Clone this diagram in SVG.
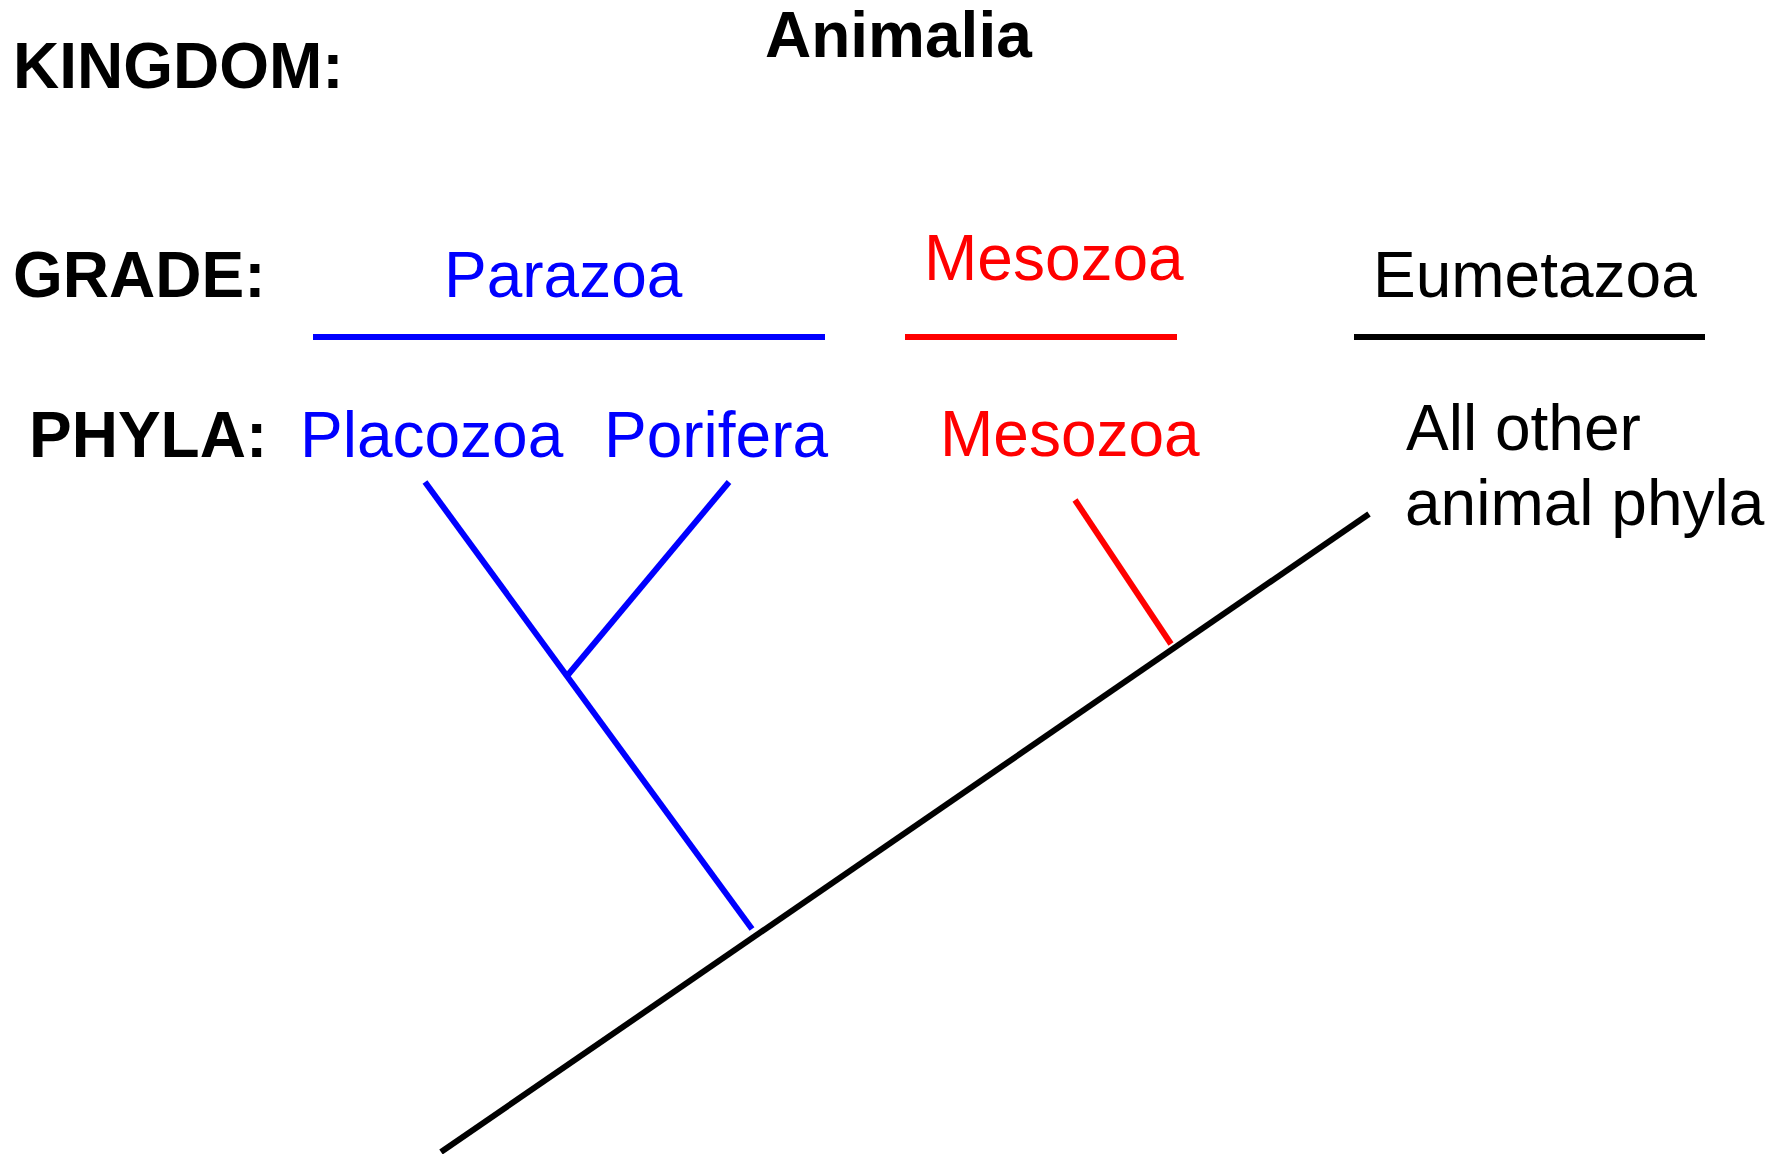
<svg xmlns="http://www.w3.org/2000/svg" width="1783" height="1154" viewBox="0 0 1783 1154">
  <style>
    text { font-family: "Liberation Sans", Arial, sans-serif; font-size: 64px; }
    .head { font-weight: bold; fill: #000; }
    .blue { fill: #0000FF; }
    .red { fill: #FF0000; }
    .black { fill: #000; }
    .bar { stroke-width: 6; fill: none; stroke-linecap: butt; }
    .branch { stroke-width: 6; fill: none; stroke-linecap: butt; }
  </style>
  <rect width="1783" height="1154" fill="#fff"/>

  <!-- row headings -->
  <g id="headings">
    <text class="head" x="13" y="88">KINGDOM:</text>
    <text class="head" x="765" y="57">Animalia</text>
    <text class="head" x="13" y="297">GRADE:</text>
    <text class="head" x="29" y="457">PHYLA:</text>
  </g>

  <!-- grades with their bars -->
  <g id="grade-parazoa">
    <text class="blue" x="444" y="297">Parazoa</text>
    <line class="bar" x1="313" y1="337" x2="825" y2="337" stroke="#0000FF"/>
  </g>
  <g id="grade-mesozoa">
    <text class="red" x="924" y="280">Mesozoa</text>
    <line class="bar" x1="905" y1="337" x2="1177" y2="337" stroke="#FF0000"/>
  </g>
  <g id="grade-eumetazoa">
    <text class="black" x="1373" y="297">Eumetazoa</text>
    <line class="bar" x1="1354" y1="337" x2="1705" y2="337" stroke="#000"/>
  </g>

  <!-- phyla -->
  <g id="phylum-placozoa"><text class="blue" x="300" y="457">Placozoa</text></g>
  <g id="phylum-porifera"><text class="blue" x="604" y="457">Porifera</text></g>
  <g id="phylum-mesozoa"><text class="red" x="940" y="456">Mesozoa</text></g>
  <g id="phylum-others">
    <text class="black" x="1406" y="450">All other</text>
    <text class="black" x="1405" y="525">animal phyla</text>
  </g>

  <!-- tree branches -->
  <g id="connectors">
    <line class="branch" x1="441" y1="1152" x2="1369" y2="514" stroke="#000"/>
    <line class="branch" x1="425" y1="482" x2="752" y2="929" stroke="#0000FF"/>
    <line class="branch" x1="729" y1="482" x2="567" y2="676" stroke="#0000FF"/>
    <line class="branch" x1="1075" y1="500" x2="1171" y2="644" stroke="#FF0000"/>
  </g>
</svg>
